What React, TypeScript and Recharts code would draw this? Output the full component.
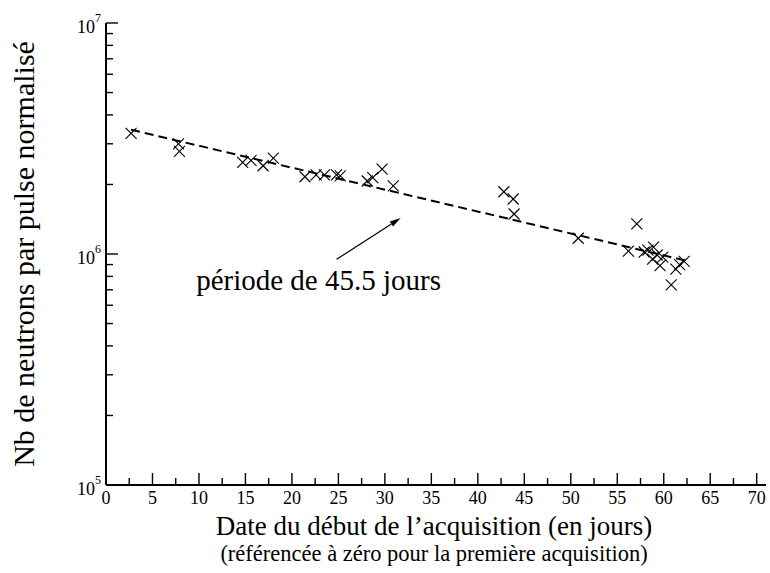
import { ComposedChart, Scatter, XAxis, YAxis, ReferenceLine, ReferenceDot } from 'recharts'

// measured points: day of acquisition start / normalised neutrons per pulse
const days = [
  2.7, 7.8, 7.9, 14.7, 15.6, 16.9, 18.0, 21.4, 22.6, 23.5, 24.8, 25.2, 28.1, 28.7, 29.7, 30.9,
  42.8, 43.8, 43.9, 50.8, 56.2, 57.1, 57.9, 58.3, 58.9, 59.3, 58.8, 59.9, 59.6, 60.8, 61.3,
  61.7, 62.2,
]
const neutrons = [
  3.33e6, 3.0e6, 2.78e6, 2.49e6, 2.54e6, 2.41e6, 2.6e6, 2.16e6, 2.2e6, 2.2e6, 2.2e6, 2.18e6,
  2.07e6, 2.14e6, 2.33e6, 1.97e6, 1.86e6, 1.73e6, 1.49e6, 1.17e6, 1.03e6, 1.35e6, 1.02e6,
  1.04e6, 1.07e6, 0.99e6, 0.95e6, 0.97e6, 0.89e6, 0.735e6, 0.86e6, 0.9e6, 0.93e6,
]

// exponential fit (dashed)
const fitDays = [2.7, 62.2]
const fitNeutrons = [3.45e6, 0.94e6]

// annotation
const arrowFrom = { x: 24.8, y: 0.948e6 }
const arrowTo = { x: 31.7, y: 1.43e6 }
const noteAt = { x: 9.7, y: 0.698e6 }
const noteText = 'période de 45.5 jours'

const xTicks = [
  0, 2.5, 5, 7.5, 10, 12.5, 15, 17.5, 20, 22.5, 25, 27.5, 30, 32.5, 35, 37.5, 40, 42.5, 45,
  47.5, 50, 52.5, 55, 57.5, 60, 62.5, 65, 67.5, 70,
]
const yTicks = [
  1e5, 2e5, 3e5, 4e5, 5e5, 6e5, 7e5, 8e5, 9e5, 1e6, 2e6, 3e6, 4e6, 5e6, 6e6, 7e6, 8e6, 9e6, 1e7,
]

const points = days.map((x, i) => ({ x, y: neutrons[i] }))
const fit = fitDays.map((x, i) => ({ x, y: fitNeutrons[i] }))

const FONT = '"Liberation Serif", "Times New Roman", Times, serif'
const serif = { fontFamily: FONT }
const MAJOR = 12
const MINOR = 7

const isMajorX = (v: number) => v % 5 === 0
const isMajorY = (v: number) => Math.abs(Math.log10(v) - Math.round(Math.log10(v))) < 1e-6

const BottomTick = ({ x, y, payload }: any) => {
  const major = isMajorX(payload.value)
  return (
    <g>
      <line x1={x} x2={x} y1={y} y2={y - (major ? MAJOR : MINOR)} stroke="#000" strokeWidth={1.4} />
      {major && (
        <text x={x} y={y + 19} textAnchor="middle" fontSize={18} style={serif} fill="#000">
          {payload.value}
        </text>
      )}
    </g>
  )
}

const TopTick = ({ x, y, payload }: any) => {
  const major = isMajorX(payload.value)
  return <line x1={x} x2={x} y1={y} y2={y + (major ? MAJOR : MINOR)} stroke="#000" strokeWidth={1.4} />
}

const LeftTick = ({ x, y, payload }: any) => {
  const major = isMajorY(payload.value)
  const exp = Math.round(Math.log10(payload.value))
  return (
    <g>
      <line x1={x} x2={x + (major ? MAJOR : MINOR)} y1={y} y2={y} stroke="#000" strokeWidth={1.4} />
      {major && (
        <text x={x - 5} y={y + 10} textAnchor="end" fontSize={18} style={serif} fill="#000">
          10
          <tspan dy={-11} fontSize={12}>
            {exp}
          </tspan>
        </text>
      )}
    </g>
  )
}

const RightTick = ({ x, y, payload }: any) => {
  const major = isMajorY(payload.value)
  return <line x1={x} x2={x - (major ? MAJOR : MINOR)} y1={y} y2={y} stroke="#000" strokeWidth={1.4} />
}

const Cross = ({ cx, cy }: any) => {
  const r = 5.5
  return (
    <g stroke="#000" strokeWidth={1.1}>
      <line x1={cx - r} y1={cy - r} x2={cx + r} y2={cy + r} />
      <line x1={cx - r} y1={cy + r} x2={cx + r} y2={cy - r} />
    </g>
  )
}

const Arrow = ({ x1, y1, x2, y2 }: any) => {
  const a = Math.atan2(y2 - y1, x2 - x1)
  const len = 11
  const w = 3
  const bx = x2 - len * Math.cos(a)
  const by = y2 - len * Math.sin(a)
  const px = -Math.sin(a) * w
  const py = Math.cos(a) * w
  return (
    <g>
      <line x1={x1} y1={y1} x2={bx} y2={by} stroke="#000" strokeWidth={1.2} />
      <polygon points={`${x2},${y2} ${bx + px},${by + py} ${bx - px},${by - py}`} fill="#000" />
    </g>
  )
}

const Note = ({ cx, cy }: any) => (
  <text x={cx} y={cy} fontSize={29} style={serif} fill="#000">
    {noteText}
  </text>
)

const axisLine = { stroke: '#000', strokeWidth: 2 }

export default function App() {
  return (
    <div style={{ position: 'absolute', left: 0, top: 0, width: 770, height: 573, background: '#fff' }}>
      <ComposedChart
        width={770}
        height={573}
        margin={{ top: 23, right: 4, bottom: 48, left: 46 }}
        style={serif}
      >
        <XAxis
          xAxisId={0}
          dataKey="x"
          type="number"
          domain={[0, 71]}
          ticks={xTicks}
          interval={0}
          tickSize={0}
          tickMargin={0}
          height={40}
          axisLine={axisLine}
          tickLine={false}
          tick={<BottomTick />}
        />
        <XAxis
          xAxisId="top"
          orientation="top"
          dataKey="x"
          type="number"
          domain={[0, 71]}
          ticks={xTicks}
          interval={0}
          tickSize={0}
          tickMargin={0}
          height={0}
          axisLine={axisLine}
          tickLine={false}
          tick={<TopTick />}
        />
        <YAxis
          yAxisId={0}
          dataKey="y"
          type="number"
          scale="log"
          domain={[1e5, 1e7]}
          allowDataOverflow
          ticks={yTicks}
          interval={0}
          tickSize={0}
          tickMargin={0}
          width={60}
          axisLine={axisLine}
          tickLine={false}
          tick={<LeftTick />}
        />
        <YAxis
          yAxisId="right"
          orientation="right"
          dataKey="y"
          type="number"
          scale="log"
          domain={[1e5, 1e7]}
          allowDataOverflow
          ticks={yTicks}
          interval={0}
          tickSize={0}
          tickMargin={0}
          width={0}
          axisLine={axisLine}
          tickLine={false}
          tick={<RightTick />}
        />
        <Scatter
          data={fit}
          xAxisId={0}
          yAxisId={0}
          line={{ stroke: '#000', strokeWidth: 2, strokeDasharray: '9 5' }}
          shape={() => <g />}
          isAnimationActive={false}
        />
        <Scatter data={points} xAxisId={0} yAxisId={0} shape={<Cross />} isAnimationActive={false} />
        <ReferenceLine
          xAxisId={0}
          yAxisId={0}
          segment={[arrowFrom, arrowTo]}
          shape={(p: any) => <Arrow {...p} />}
        />
        <ReferenceDot xAxisId={0} yAxisId={0} x={noteAt.x} y={noteAt.y} shape={(p: any) => <Note {...p} />} />
        <text
          x={34}
          y={254}
          transform="rotate(-90, 34, 254)"
          textAnchor="middle"
          fontSize={30}
          style={serif}
          fill="#000"
        >
          Nb de neutrons par pulse normalisé
        </text>
        <text x={434} y={535} textAnchor="middle" fontSize={27} style={serif} fill="#000">
          Date du début de l’acquisition (en jours)
        </text>
        <text x={434} y={561} textAnchor="middle" fontSize={22.5} style={serif} fill="#000">
          (référencée à zéro pour la première acquisition)
        </text>
      </ComposedChart>
    </div>
  )
}
